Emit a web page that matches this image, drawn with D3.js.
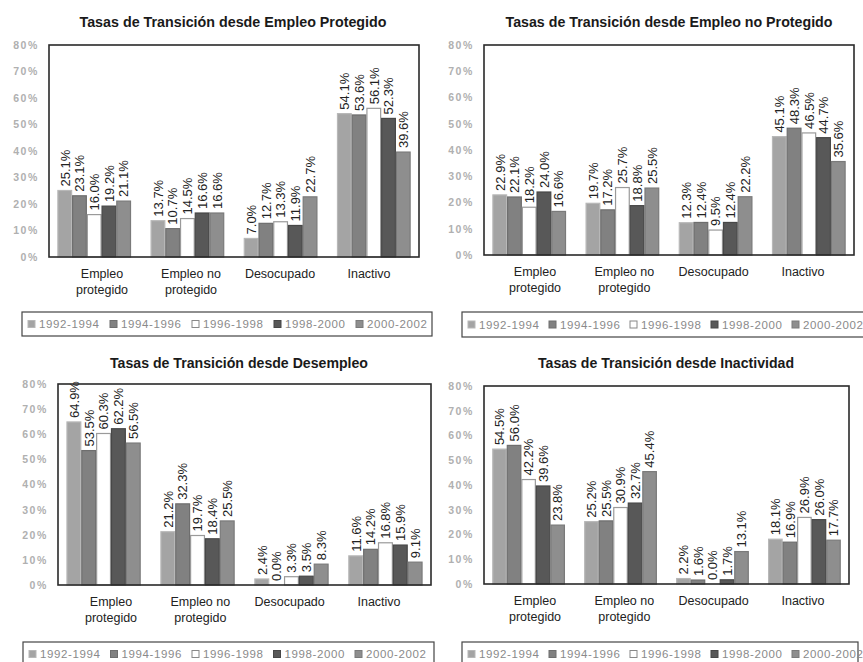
<!DOCTYPE html>
<html><head><meta charset="utf-8">
<script src="https://cdn.jsdelivr.net/npm/d3@7"></script>
<style>
html,body{margin:0;padding:0;background:#fff;}
svg{display:block;font-family:"Liberation Sans",Arial,sans-serif;}
</style></head>
<body><svg id="c" width="863" height="662"></svg>
<script>
// ---- data ----
const categories = [["Empleo","protegido"],["Empleo no","protegido"],["Desocupado"],["Inactivo"]];
const series = ["1992-1994","1994-1996","1996-1998","1998-2000","2000-2002"];
const yTicks = [0,10,20,30,40,50,60,70,80];
const titles = [
  "Tasas de Transición desde Empleo Protegido",
  "Tasas de Transición desde Empleo no Protegido",
  "Tasas de Transición desde Desempleo",
  "Tasas de Transición desde Inactividad"
];
// values[category][series], in %
const desdeEmpleoProtegido = [
  [25.1,23.1,16.0,19.2,21.1],
  [13.7,10.7,14.5,16.6,16.6],
  [7.0,12.7,13.3,11.9,22.7],
  [54.1,53.6,56.1,52.3,39.6]
];
const desdeEmpleoNoProtegido = [
  [22.9,22.1,18.2,24.0,16.6],
  [19.7,17.2,25.7,18.8,25.5],
  [12.3,12.4,9.5,12.4,22.2],
  [45.1,48.3,46.5,44.7,35.6]
];
const desdeDesempleo = [
  [64.9,53.5,60.3,62.2,56.5],
  [21.2,32.3,19.7,18.4,25.5],
  [2.4,0.0,3.3,3.5,8.3],
  [11.6,14.2,16.8,15.9,9.1]
];
const desdeInactividad = [
  [54.5,56.0,42.2,39.6,23.8],
  [25.2,25.5,30.9,32.7,45.4],
  [2.2,1.6,0.0,1.7,13.1],
  [18.1,16.9,26.9,26.0,17.7]
];
const panelValues = [desdeEmpleoProtegido, desdeEmpleoNoProtegido, desdeDesempleo, desdeInactividad];

// ---- styles / layout ----
const fills = ["#a4a4a4","#818181","#ffffff","#585858","#8e8e8e"];
const strokes = ["#b8b8b8","#6e6e6e","#9a9a9a","#474747","#7a7a7a"];
const layouts = [
  {x0:49,x1:419,y0:45,y1:257,tx:233,ty:27,tw:307,lab:[102,369],lg:{x:22,y:312,w:410,h:24,pitch:82}},
  {x0:484,x1:854,y0:45,y1:255,tx:669,ty:27,tw:327,lab:[535,803],lg:{x:462,y:312,w:420,h:25,pitch:81}},
  {x0:58,x1:431,y0:384,y1:585,tx:239,ty:368,tw:258,lab:[111,379],lg:{x:23,y:642,w:411,h:24,pitch:81.5}},
  {x0:484,x1:849,y0:386,y1:584,tx:666,ty:368,tw:256,lab:[535,803],lg:{x:462,y:642,w:396,h:24,pitch:81}}
];

const svg = d3.select("#c");
const catIdx = categories.map((c,i)=>i);

layouts.forEach((L,p)=>{
  const vals = panelValues[p];
  const g = svg.append("g");
  const y = d3.scaleLinear().domain([0,80]).range([L.y1,L.y0]);
  const x = d3.scaleBand().domain(catIdx).range([L.x0,L.x1]).paddingInner(0.21).paddingOuter(0.09);
  const xs = d3.scaleBand().domain(d3.range(series.length)).range([0,x.bandwidth()]);
  const xl = d3.scalePoint().domain(catIdx).range(L.lab);

  // title
  g.append("text").attr("x",L.tx).attr("y",L.ty).attr("text-anchor","middle")
    .attr("font-size",15).attr("font-weight","bold").attr("fill","#1a1a1a")
    .attr("textLength",L.tw).attr("lengthAdjust","spacingAndGlyphs")
    .text(titles[p]);

  // y axis labels
  const ya = d3.axisLeft(y).tickValues(yTicks).tickFormat(d=>d+"%").tickSize(0).tickPadding(10);
  const yg = g.append("g").attr("transform",`translate(${L.x0},0)`).call(ya);
  yg.select(".domain").remove();
  yg.selectAll("text").attr("font-size",10.5).attr("font-weight","bold")
    .attr("fill","#b0b0b0").attr("letter-spacing","1.6px")
    .attr("font-family","'Liberation Sans',Arial,sans-serif");

  // frame background
  g.append("rect").attr("x",L.x0).attr("y",L.y0).attr("width",L.x1-L.x0).attr("height",L.y1-L.y0)
    .attr("fill","#fff");

  // bars
  vals.forEach((row,ci)=>{
    const cg = g.append("g").attr("transform",`translate(${x(ci)},0)`);
    cg.selectAll("rect").data(row).join("rect")
      .attr("x",(d,si)=>xs(si)+0.5).attr("width",xs.bandwidth()-1)
      .attr("y",d=>y(d)).attr("height",d=>Math.max(0,y(0)-y(d)))
      .attr("fill",(d,si)=>fills[si]).attr("stroke",(d,si)=>strokes[si]).attr("stroke-width",1.2);
    cg.selectAll("text").data(row).join("text")
      .attr("transform",(d,si)=>`translate(${xs(si)+xs.bandwidth()/2+4.8},${y(d)-4}) rotate(-90)`)
      .attr("font-size",13).attr("fill","#222")
      .text(d=>d.toFixed(1)+"%");
  });

  // frame
  g.append("rect").attr("x",L.x0).attr("y",L.y0).attr("width",L.x1-L.x0).attr("height",L.y1-L.y0)
    .attr("fill","none").attr("stroke","#2a2a2a").attr("stroke-width",1.6);

  // category labels
  catIdx.forEach(ci=>{
    const t = g.append("text").attr("x",xl(ci)).attr("y",L.y1+21).attr("text-anchor","middle")
      .attr("font-size",12.5).attr("fill","#222");
    categories[ci].forEach((line,li)=>{
      t.append("tspan").attr("x",xl(ci)).attr("dy",li===0?0:15.5).text(line);
    });
  });

  // legend
  const lg = L.lg;
  const leg = g.append("g");
  leg.append("rect").attr("x",lg.x).attr("y",lg.y).attr("width",lg.w).attr("height",lg.h)
    .attr("fill","#fff").attr("stroke","#444").attr("stroke-width",1.2);
  series.forEach((s,si)=>{
    const sx = lg.x+6+si*lg.pitch;
    leg.append("rect").attr("x",sx).attr("y",lg.y+lg.h/2-3.5).attr("width",7).attr("height",7)
      .attr("fill",fills[si]).attr("stroke",si===2?"#888":strokes[si]);
    leg.append("text").attr("x",sx+11).attr("y",lg.y+lg.h/2+4).attr("font-size",11.5)
      .attr("fill","#8a8a8a").attr("letter-spacing","0.6px").text(s);
  });
});
</script>
</body></html>
